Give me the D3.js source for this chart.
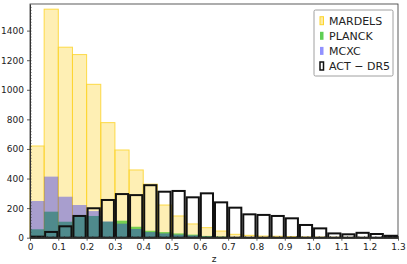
<!DOCTYPE html>
<html>
<head>
<meta charset="utf-8">
<script src="https://cdn.jsdelivr.net/npm/d3@7"></script>
<style>
  html, body { margin: 0; padding: 0; background: #fff; }
  svg { display: block; font-family: "DejaVu Sans", sans-serif; }
</style>
</head>
<body>
<div id="chart"></div>
<script>
// bordes de los bins (ancho 0.05)
const binStarts = d3.range(26).map(i => +(i * 0.05).toFixed(2));

const mardels = [620, 1545, 1288, 1238, 1037, 778, 593, 458, 362, 221, 147, 93, 68, 45, 23, 16, 11, 10, 7, 5, 4, 3, 2, 2, 1, 1];
const planck  = [57, 176, 108, 142, 147, 108, 115, 74, 47, 38, 29, 21, 12, 8, 5, 3, 2, 1, 1, 0, 0, 0, 0, 0, 0, 0];
const mcxc    = [248, 413, 277, 221, 180, 110, 95, 59, 38, 29, 21, 16, 8, 5, 3, 2, 1, 1, 0, 0, 0, 0, 0, 0, 0, 0];
const actdr5  = [7, 39, 77, 147, 199, 255, 295, 288, 355, 311, 316, 273, 300, 239, 203, 158, 154, 147, 131, 86, 63, 29, 23, 33, 25, 13];

const xTicks = [0, 0.1, 0.2, 0.3, 0.4, 0.5, 0.6, 0.7, 0.8, 0.9, 1.0, 1.1, 1.2, 1.3];
const xTickLabels = ["0", "0.1", "0.2", "0.3", "0.4", "0.5", "0.6", "0.7", "0.8", "0.9", "1.0", "1.1", "1.2", "1.3"];
const yTicks = [0, 200, 400, 600, 800, 1000, 1200, 1400];

const legendNames = ["MARDELS", "PLANCK", "MCXC", "ACT \u2212 DR5"];

const W = 407, H = 264;
const margin = { top: 4, right: 9, bottom: 26.3, left: 30 };
const width = W - margin.left - margin.right;
const height = H - margin.top - margin.bottom;

const svg = d3.select("#chart").append("svg")
    .attr("width", W).attr("height", H)
    .attr("viewBox", `0 0 ${W} ${H}`);

const g = svg.append("g").attr("transform", `translate(${margin.left},${margin.top})`);

const x = d3.scaleLinear().domain([0, 1.3]).range([0, width]);
const y = d3.scaleLinear().domain([0, 1580]).range([height, 0]);
const bw = 0.05;

// histograma genérico
function drawHist(values, opts) {
    const rw = opts.rwidth || 1;
    g.append("g").selectAll("rect")
        .data(values.map((v, i) => ({ x0: binStarts[i], v: v })))
        .enter().append("rect")
        .attr("x", d => x(d.x0 + bw * (1 - rw) / 2))
        .attr("width", x(bw * rw) - x(0))
        .attr("y", d => y(d.v))
        .attr("height", d => y(0) - y(d.v))
        .style("fill", opts.fill)
        .style("fill-opacity", opts.fillOpacity)
        .style("stroke", opts.stroke)
        .style("stroke-opacity", opts.strokeOpacity)
        .style("stroke-width", opts.strokeWidth);
}

const styles = [
    { fill: "#fcd53a", fillOpacity: 0.38, stroke: "#fdd52e", strokeOpacity: 0.85, strokeWidth: 1 },
    { fill: "#1bb90b", fillOpacity: 0.6, stroke: "none", strokeOpacity: 0, strokeWidth: 0 },
    { fill: "#0a0aff", fillOpacity: 0.35, stroke: "none", strokeOpacity: 0, strokeWidth: 0 },
    { fill: "none", fillOpacity: 0, stroke: "#111", strokeOpacity: 1, strokeWidth: 2, rwidth: 0.86 }
];

drawHist(mardels, styles[0]);
drawHist(planck, styles[1]);
drawHist(mcxc, styles[2]);
drawHist(actdr5, styles[3]);

// ejes
const xAxis = g.append("g")
    .attr("transform", `translate(0,${height})`)
    .call(d3.axisBottom(x).tickValues(xTicks).tickFormat((d, i) => xTickLabels[i]).tickSize(3).tickSizeOuter(0));
const yAxis = g.append("g")
    .call(d3.axisLeft(y).tickValues(yTicks).tickFormat(d3.format("d")).tickSize(3).tickSizeOuter(0));

// ticks menores
g.append("g").attr("transform", `translate(0,${height})`)
    .call(d3.axisBottom(x).tickValues(d3.range(0, 1.3001, 0.02)).tickFormat("").tickSize(-1.5).tickSizeOuter(0))
    .call(a => a.select(".domain").remove());
g.append("g")
    .call(d3.axisLeft(y).tickValues(d3.range(0, 1580, 20)).tickFormat("").tickSize(-1.5).tickSizeOuter(0))
    .call(a => a.select(".domain").remove());

[xAxis, yAxis].forEach(a => {
    a.selectAll("text").style("font-size", "9px").style("fill", "#222")
        .style("font-family", "DejaVu Sans, sans-serif");
    a.select(".domain").style("stroke", "#333");
});
g.selectAll(".tick line").style("stroke", "#333").style("stroke-width", 0.8);

// marco
g.append("rect")
    .attr("width", width).attr("height", height)
    .style("fill", "none").style("stroke", "#333").style("stroke-width", 0.8);

// etiqueta eje x
g.append("text")
    .attr("x", width / 2).attr("y", height + 24)
    .attr("text-anchor", "middle")
    .style("font-size", "9px").style("fill", "#222")
    .text("z");

// leyenda
const legend = svg.append("g").attr("transform", "translate(314,10)");
legend.append("rect")
    .attr("width", 79).attr("height", 66).attr("rx", 1.5)
    .style("fill", "#fff").style("stroke", "#888").style("stroke-width", 0.8);

const legendItems = legend.selectAll(".legend-item")
    .data(legendNames)
    .enter().append("g")
    .attr("class", "legend-item")
    .attr("transform", (d, i) => `translate(0, ${10.7 + i * 15.1})`);

legendItems.append("rect")
    .attr("x", 6).attr("y", -4).attr("width", 3.5).attr("height", 8)
    .style("fill", (d, i) => i === 3 ? "#fff" : styles[i].fill)
    .style("fill-opacity", (d, i) => i === 3 ? 1 : styles[i].fillOpacity + 0.1)
    .style("stroke", (d, i) => i === 3 ? "#111" : (i === 0 ? styles[0].stroke : "none"))
    .style("stroke-width", (d, i) => i === 3 ? 1.5 : 1);

legendItems.append("text")
    .attr("x", 15).attr("dy", "0.36em")
    .style("font-size", "11px").style("fill", "#222")
    .text(d => d);
</script>
</body>
</html>
